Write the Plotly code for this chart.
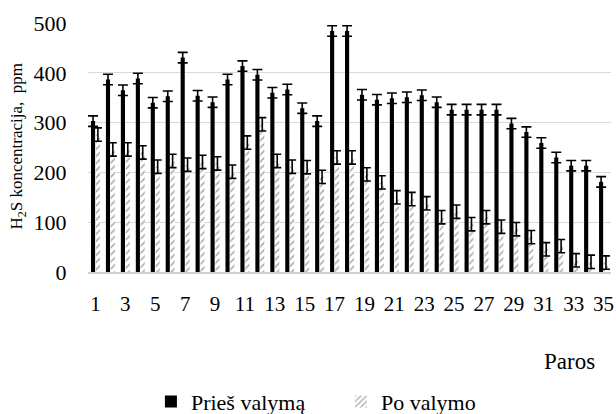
import plotly.graph_objects as go

# Daily H2S concentration before and after treatment
days = list(range(1, 36))

before = [303, 386.5, 365, 388.5, 340, 353, 430.5, 354, 341, 386.5,
          413.5, 396, 360, 366.5, 329, 303, 484, 484, 356, 346,
          349, 351, 355, 341, 326, 326, 326, 326, 298, 281,
          259, 230, 213.5, 213.5, 181]
before_err = [10.5, 10.5, 10.5, 10.5, 10.5, 10.5, 10.5, 10.5, 10.5, 10.5,
              10.5, 10.5, 10.5, 10.5, 10.5, 10.5, 10.5, 10.5, 10.5, 10.5,
              10.5, 10.5, 10.5, 10.5, 10.5, 10.5, 10.5, 10.5, 10.5, 10.5,
              10.5, 10.5, 10.5, 10.5, 10.5]

after = [276, 246, 246, 240, 211.5, 223, 215.5, 221, 218, 201.5,
         260, 296.5, 223, 211.5, 210.5, 191, 230, 230, 196, 180,
         150, 146.5, 138, 110, 121, 96, 110, 91, 86, 70,
         45.5, 52, 23.5, 20.5, 19]
after_err = [13.4, 13.4, 13.4, 13.4, 13.4, 13.4, 13.4, 13.4, 13.4, 13.4,
             13.4, 13.4, 13.4, 13.4, 13.4, 13.4, 13.4, 13.4, 13.4, 13.4,
             13.4, 13.4, 13.4, 13.4, 13.4, 13.4, 13.4, 13.4, 13.4, 13.4,
             13.4, 13.4, 13.4, 13.4, 13.4]

x_ticks = list(range(1, 36, 2))
y_ticks = [0, 100, 200, 300, 400, 500]

SERIF = "Liberation Serif, Times New Roman, serif"

fig = go.Figure()
fig.add_trace(go.Bar(
    x=days, y=before, name="Prieš valymą",
    marker=dict(color="#000000", line=dict(width=0)),
    error_y=dict(type="data", array=before_err, visible=True,
                 color="#000000", thickness=1.6, width=5),
))
fig.add_trace(go.Bar(
    x=days, y=after, name="Po valymo",
    marker=dict(color="#ffffff", line=dict(width=0),
                pattern=dict(shape="/", fgcolor="#505050", bgcolor="#ffffff",
                             size=5, solidity=0.3)),
    error_y=dict(type="data", array=after_err, visible=True,
                 color="#000000", thickness=1.6, width=4),
))

fig.update_layout(
    width=616, height=414,
    margin=dict(l=88, r=2, t=23, b=142),
    paper_bgcolor="#ffffff", plot_bgcolor="#ffffff",
    barmode="group", bargap=0.35, bargroupgap=0.15,
    font=dict(family=SERIF, size=21, color="#000000"),
    showlegend=True,
    legend=dict(orientation="h", xref="container", yref="container",
                x=0.245, y=0.03, xanchor="left", yanchor="middle",
                font=dict(family=SERIF, size=22, color="#000000"),
                entrywidth=145, traceorder="normal",
                bgcolor="rgba(0,0,0,0)"),
)

fig.update_xaxes(
    range=[0.5, 35.5], tickmode="array", tickvals=x_ticks,
    ticktext=[str(v) for v in x_ticks],
    showgrid=False, zeroline=False,
    showline=True, linecolor="#d0d0d0", linewidth=2,
    ticks="outside", ticklen=12, tickcolor="rgba(0,0,0,0)",
    tickfont=dict(family=SERIF, size=21),
    ticklabeloverflow="allow",
)
fig.update_yaxes(
    range=[0, 500], tickmode="array", tickvals=y_ticks,
    showgrid=True, gridcolor="#d9d9d9", gridwidth=1,
    zeroline=False, showline=False,
    ticks="outside", ticklen=16, tickcolor="rgba(0,0,0,0)",
    tickfont=dict(family=SERIF, size=22),
)

fig.add_annotation(
    text="H<sub>2</sub>S koncentracija,  ppm", textangle=-90,
    xref="paper", yref="paper", x=-0.133, y=0.506,
    xanchor="center", yanchor="middle", showarrow=False,
    font=dict(family=SERIF, size=17, color="#000000"),
)
fig.add_annotation(
    text="Paros", xref="paper", yref="paper", x=0.92, y=-0.361,
    xanchor="center", yanchor="middle", showarrow=False,
    font=dict(family=SERIF, size=23, color="#000000"),
)

fig.write_html("out.html")
